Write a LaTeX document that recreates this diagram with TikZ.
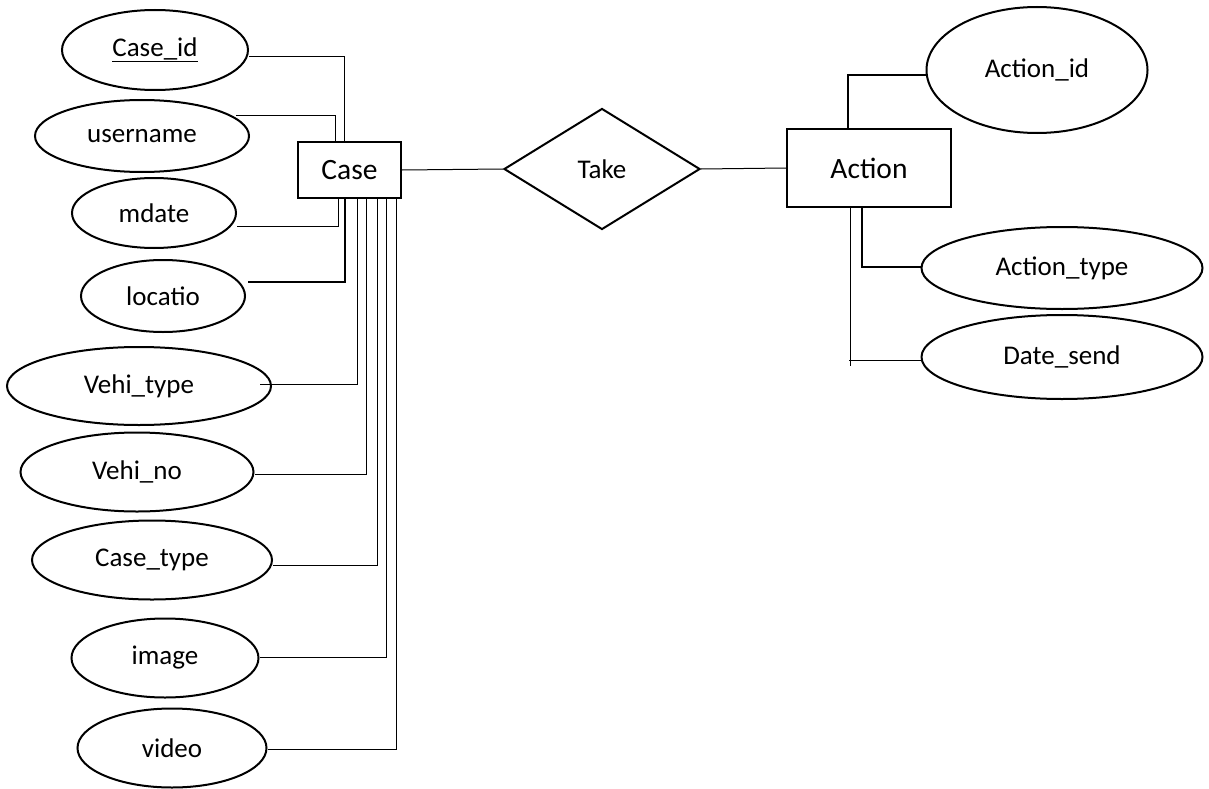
\documentclass[tikz,border=0pt]{standalone}
\usepackage{fontspec}
\setmainfont{Carlito}
\usetikzlibrary{shapes.geometric}
\begin{document}
\begin{tikzpicture}[x=1pt,y=-1pt,
  attr/.style={draw,ellipse,line width=2pt,inner sep=0pt,
    font=\fontsize{27}{32}\selectfont},
  entity/.style={draw,rectangle,line width=2pt,inner sep=0pt,
    font=\fontsize{29.5}{34}\selectfont},
  rel/.style={draw,diamond,line width=2pt,inner sep=0pt,
    font=\fontsize{27}{32}\selectfont},
  link/.style={line width=1pt},
  boldlink/.style={line width=2pt}]
\useasboundingbox (0,0) rectangle (1209,789);

% entities and relationship
\node[entity,minimum width=103pt,minimum height=56pt] (case) at (349.5,170) {Case};
\node[entity,minimum width=164pt,minimum height=78pt] (action) at (869,168) {Action};
\node[rel,minimum width=196pt,minimum height=121pt] (take) at (602,169) {Take};

% attributes of Case
\node[attr,minimum width=186pt,minimum height=80pt] (cid) at (155,50) {\underline{Case\_id}};
\node[attr,minimum width=214pt,minimum height=72pt] (user) at (142,136) {username};
\node[attr,minimum width=164pt,minimum height=70pt] (mdate) at (154,213) {mdate};
\node[attr,minimum width=164pt,minimum height=72pt] (loc) at (163,296) {locatio};
\node[attr,minimum width=264pt,minimum height=78pt] (vtype) at (139,386) {Vehi\_type};
\node[attr,minimum width=233pt,minimum height=79pt] (vno) at (137,472) {Vehi\_no};
\node[attr,minimum width=240pt,minimum height=79pt] (ctype) at (152,560) {Case\_type};
\node[attr,minimum width=187pt,minimum height=79pt] (img) at (165,658) {image};
\node[attr,minimum width=189pt,minimum height=79pt] (vid) at (172,748) {video};

% attributes of Action
\node[attr,minimum width=221pt,minimum height=126pt] (aid) at (1037,70) {Action\_id};
\node[attr,minimum width=281pt,minimum height=82pt] (atype) at (1062,268) {Action\_type};
\node[attr,minimum width=281pt,minimum height=84pt] (dsend) at (1062,357) {Date\_send};

% relationship links
\draw[link] (case.east) -- (take.west);
\draw[link] (take.east) -- (action.west);

% Case attribute links
\draw[link] (cid.east) ++(0,7) -| ([xshift=-5.5pt]case.north);
\draw[link] (user.east) ++(-14,-20) -| ([xshift=-14.5pt]case.north);
\draw[link] (mdate.east) ++(0,13) -| ([xshift=-11.5pt]case.south);
\draw[boldlink] (loc.east) ++(2,-14) -| ([xshift=-4.5pt]case.south);
\draw[link] (vtype.east) ++(-12,-2) -| ([xshift=7.5pt]case.south);
\draw[link] (vno.east) ++(0,2) -| ([xshift=17pt]case.south);
\draw[link] (ctype.east) ++(0,5) -| ([xshift=28pt]case.south);
\draw[link] (img.east) ++(0,-1) -| ([xshift=37pt]case.south);
\draw[link] (vid.east) ++(0,1) -| ([xshift=47pt]case.south);

% Action attribute links
\draw[boldlink] (aid.west) ++(0,5) -| ([xshift=-21pt]action.north);
\draw[boldlink] (atype.west) ++(0,-1) -| ([xshift=-7pt]action.south);
\draw[link] (dsend.west) ++(0,3) -- ++(-72,0);
\draw[link] ([xshift=-19pt]action.south) -- ++(0,158);
\end{tikzpicture}
\end{document}
